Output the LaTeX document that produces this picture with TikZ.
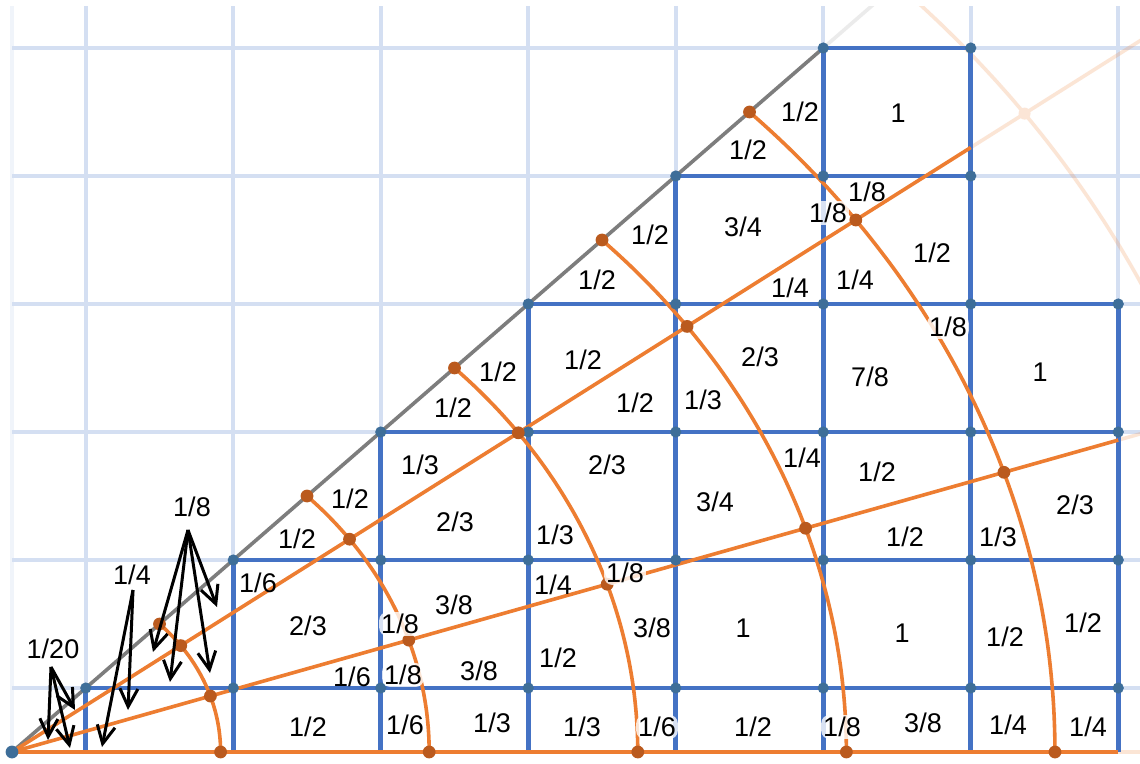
\documentclass[tikz,border=0pt]{standalone}
\usepackage{fontspec}
\setmainfont{Liberation Sans}
\usetikzlibrary{arrows.meta}
\definecolor{gridlight}{RGB}{212,223,242}
\definecolor{cellblue}{RGB}{68,114,196}
\definecolor{dotblue}{RGB}{62,110,153}
\definecolor{arcorange}{RGB}{237,125,49}
\definecolor{dotorange}{RGB}{186,90,30}
\definecolor{raygray}{RGB}{125,125,125}
\begin{document}
\begin{tikzpicture}[x=0.5pt,y=-0.5pt,
  lbl/.style={font=\fontsize{13.5}{15}\selectfont, inner sep=1pt},
  halo/.style={lbl, fill=white, fill opacity=0.8, text opacity=1, rounded corners=4pt},
  arr/.style={line width=1.5pt, -{Straight Barb[length=9pt,width=9pt]}},
  gridline/.style={line width=2.2pt, draw=gridlight},
  cellline/.style={line width=2.4pt, draw=cellblue},
  orangeline/.style={line width=1.8pt, draw=arcorange},
  fadedorange/.style={line width=1.8pt, draw=arcorange, draw opacity=0.2},
  grayline/.style={line width=1.8pt, draw=raygray},
  bdot/.style={fill=dotblue},
  odot/.style={fill=dotorange}]
\useasboundingbox (0,0) rectangle (1140,764);
\fill[white] (0,0) rectangle (1140,764);
\begin{scope}[shift={(12,752)}, x=73.75pt, y=64pt]
  \clip (-0.2,-0.2) rectangle (7.647,5.828);
  % light grid
  \draw[gridline, draw=gridlight!35] (0,0) -- (0,5.9);
  \foreach \u in {0.5,1.5,...,7.5} \draw[gridline] (\u,0) -- (\u,5.9);
  \foreach \v in {0.5,1.5,...,5.5} \draw[gridline] (0,\v) -- (7.8,\v);
  % faded continuations
  \draw[grayline, draw opacity=0.15] (5.5,5.5) -- (6.2,6.2);
  \draw[fadedorange] (6.5,4.7225) -- (8,5.8123);
  \draw[fadedorange] (7.5,2.4369) -- (8,2.5994);
  \draw[fadedorange] (7.5,0) -- (8,0);
  \draw[fadedorange] plot[variable=\t, domain=0:45, samples=80, smooth] ({8.48528*cos(\t)},{8.48528*sin(\t)});
  \fill[arcorange!20] ({8.48528*cos(36)},{8.48528*sin(36)}) circle[radius=3pt];
  % blue cells
  \draw[cellline] (0.5,0.5) -- (7.5,0.5);
  \draw[cellline] (1.5,1.5) -- (7.5,1.5);
  \draw[cellline] (2.5,2.5) -- (7.5,2.5);
  \draw[cellline] (3.5,3.5) -- (7.5,3.5);
  \draw[cellline] (4.5,4.5) -- (6.5,4.5);
  \draw[cellline] (5.5,5.5) -- (6.5,5.5);
  \draw[cellline] (0.5,0) -- (0.5,0.5);
  \draw[cellline] (1.5,0) -- (1.5,1.5);
  \draw[cellline] (2.5,0) -- (2.5,2.5);
  \draw[cellline] (3.5,0) -- (3.5,3.5);
  \draw[cellline] (4.5,0) -- (4.5,4.5);
  \draw[cellline] (5.5,0) -- (5.5,5.5);
  \draw[cellline] (6.5,0) -- (6.5,5.5);
  \draw[cellline] (7.5,0) -- (7.5,3.5);
  % rays
  \draw[grayline] (0,0) -- (5.5,5.5);
  \draw[orangeline] (0,0) -- (6.5,4.7225);
  \draw[orangeline] (0,0) -- (7.5,2.4369);
  \draw[orangeline] (0,0) -- (7.5,0);
  % arcs
  \foreach \k in {1,...,5} {
    \pgfmathsetmacro{\r}{\k*1.41421}
    \draw[orangeline] plot[variable=\t, domain=0:45, samples=60, smooth] ({\r*cos(\t)},{\r*sin(\t)});
  }
  % blue dots
  \fill[bdot] (0,0) circle[radius=3.2pt];
  \foreach \v/\a/\b in {0.5/0/7, 1.5/1/7, 2.5/2/7, 3.5/3/7, 4.5/4/6, 5.5/5/6}
    \foreach \i in {\a,...,\b} \fill[bdot] (\i+0.5,\v) circle[radius=2.8pt];
  % orange dots
  \foreach \k in {1,...,5}
    \foreach \ang in {0,18,36,45} {
      \pgfmathsetmacro{\r}{\k*1.41421}
      \fill[odot] ({\r*cos(\ang)},{\r*sin(\ang)}) circle[radius=3.2pt];
    }
\end{scope}
% labels
\foreach \x/\y/\t [count=\i] in {
  308/727/1\slash 2, 405/725/1\slash 6, 492/723/1\slash 3, 582/727/1\slash 3,
  753/727/1\slash 2, 923/723/3\slash 8, 1008/725/1\slash 4, 1088/727/1\slash 4,
  258/583/1\slash 6, 308/626/2\slash 3, 454/605/3\slash 8, 352/677/1\slash 6,
  479/671/3\slash 8, 553/585/1\slash 4, 558/658/1\slash 2, 652/628/3\slash 8,
  743/628/1, 902/633/1, 1005/637/1\slash 2, 1083/623/1\slash 2,
  420/465/1\slash 3, 350/499/1\slash 2, 297/539/1\slash 2, 455/522/2\slash 3,
  607/465/2\slash 3, 555/535/1\slash 3, 715/502/3\slash 4, 802/458/1\slash 4,
  877/472/1\slash 2, 905/537/1\slash 2, 998/537/1\slash 3, 1075/505/2\slash 3,
  498/372/1\slash 2, 453/408/1\slash 2, 583/360/1\slash 2, 635/403/1\slash 2,
  703/400/1\slash 3, 760/357/2\slash 3, 870/377/7\slash 8, 1040/372/1,
  650/235/1\slash 2, 597/280/1\slash 2, 743/227/3\slash 4, 867/192/1\slash 8,
  932/253/1\slash 2, 790/288/1\slash 4, 855/280/1\slash 4,
  800/112/1\slash 2, 748/150/1\slash 2, 898/113/1}
  \node[lbl] (L\i) at (\x,\y) {\t};
\foreach \x/\y/\t [count=\i] in {
  657/727/1\slash 6, 842/727/1\slash 8, 400/624/1\slash 8, 403/675/1\slash 8,
  625/573/1\slash 8, 948/327/1\slash 8, 828/213/1\slash 8}
  \node[halo] (H\i) at (\x,\y) {\t};
% arrow labels
\node[lbl] (a20) at (53,649) {1/20};
\node[lbl] (a4) at (132,575) {1/4};
\node[lbl] (a8) at (192,507) {1/8};
\coordinate (t20) at (51,667);
\coordinate (t4) at (133,590);
\coordinate (t8) at (188,530);
\coordinate (h20a) at (48,740);
\coordinate (h20b) at (70,748);
\coordinate (h20c) at (75,710);
\coordinate (h4a) at (102,747);
\coordinate (h4b) at (128,710);
\coordinate (h8a) at (153,652);
\coordinate (h8b) at (170,682);
\coordinate (h8c) at (210,673);
\coordinate (h8d) at (217,607);
\draw[arr] (t20) -- (h20a);
\draw[arr] (t20) -- (h20b);
\draw[arr] (t20) -- (h20c);
\draw[arr] (t4) -- (h4a);
\draw[arr] (t4) -- (h4b);
\draw[arr] (t8) -- (h8a);
\draw[arr] (t8) -- (h8b);
\draw[arr] (t8) -- (h8c);
\draw[arr] (t8) -- (h8d);
\end{tikzpicture}
\end{document}
